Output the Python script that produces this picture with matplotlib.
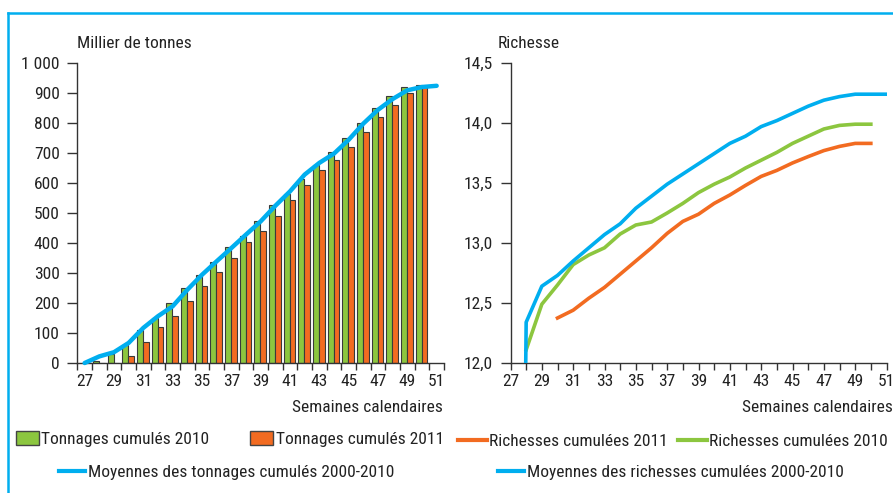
import matplotlib
matplotlib.use("Agg")
import matplotlib.pyplot as plt
from matplotlib import font_manager
from matplotlib.patches import Patch
from matplotlib.lines import Line2D

# Pick a narrow font if one is installed
installed = {f.name for f in font_manager.fontManager.ttflist}
FONT = "DejaVu Sans"
for name in ["Liberation Sans Narrow", "Roboto Condensed", "Open Sans Condensed", "Noto Sans"]:
    if name in installed:
        FONT = name
        break
plt.rcParams["font.family"] = [FONT, "DejaVu Sans"]

# Data
WEEKS_ALL = list(range(27, 52))
WEEKS_BARS = list(range(28, 51))
tonnage_2010 = [6, 31, 61, 110, 150, 200, 249, 294, 336, 388, 424, 474, 527,
                562, 612, 660, 702, 749, 800, 850, 891, 919, 926]
tonnage_2011 = [0, 0, 24, 70, 119, 158, 207, 257, 302, 351, 403, 440, 491,
                544, 594, 644, 678, 721, 770, 819, 859, 899, 920]
tonnage_mean = [0, 22, 36, 67, 117, 156, 189, 244, 294, 339, 383, 428, 472,
                524, 572, 628, 667, 698, 744, 798, 844, 880, 909, 920, 924]

richesse_mean = [0, 12.34, 12.64, 12.73, 12.85, 12.96, 13.07, 13.16, 13.29,
                 13.39, 13.49, 13.575, 13.66, 13.745, 13.83, 13.89, 13.97,
                 14.02, 14.08, 14.14, 14.19, 14.22, 14.24, 14.24, 14.24]
WEEKS_R2010 = list(range(28, 51))
richesse_2010 = [12.11, 12.49, 12.65, 12.82, 12.90, 12.96, 13.075, 13.15,
                 13.175, 13.25, 13.33, 13.42, 13.49, 13.55, 13.625, 13.69,
                 13.755, 13.83, 13.89, 13.95, 13.98, 13.99, 13.99]
WEEKS_R2011 = list(range(30, 51))
richesse_2011 = [12.375, 12.44, 12.54, 12.63, 12.74, 12.85, 12.96, 13.08,
                 13.18, 13.24, 13.33, 13.40, 13.48, 13.555, 13.605, 13.667,
                 13.72, 13.77, 13.805, 13.83, 13.83]

GREEN = "#8CC63F"
ORANGE = "#F26B21"
BLUE = "#00AEEF"
DARK = "#222222"
FS = 12.5

W, H = 893, 493
fig = plt.figure(figsize=(W / 100, H / 100), dpi=100)


def fx(px):
    return px / W


def fy(py):
    return 1 - py / H


def style_axes(ax):
    for side in ["top", "right"]:
        ax.spines[side].set_visible(False)
    for side in ["left", "bottom"]:
        ax.spines[side].set_color("#333333")
        ax.spines[side].set_linewidth(1.0)
    ax.tick_params(axis="y", direction="out", length=7.2, width=1.0,
                   color="#333333", labelsize=FS, labelcolor=DARK, pad=5.5)
    ax.tick_params(axis="x", which="both", direction="out", length=5, width=1.0,
                   color="#333333", labelsize=FS, labelcolor=DARK, pad=3)
    ax.set_facecolor("none")


# ---- Left chart: tonnages ----
ax1 = fig.add_axes([fx(77.3), fy(363), fx(444 - 77.3), (363 - 63) / H])
ax1.bar([w - 0.23 for w in WEEKS_BARS], tonnage_2010, width=0.4,
        color=GREEN, edgecolor="#3a3a3a", linewidth=0.8, zorder=2)
ax1.bar([w + 0.17 for w in WEEKS_BARS], tonnage_2011, width=0.4,
        color=ORANGE, edgecolor="#3a3a3a", linewidth=0.8, zorder=2)
ax1.plot(WEEKS_ALL, tonnage_mean, color=BLUE, linewidth=3.2,
         solid_capstyle="round", zorder=3, clip_on=False)
ax1.set_xlim(26.5, 51.5)
ax1.set_ylim(0, 1000)
ax1.set_yticks(range(0, 1001, 100))
ax1.set_yticklabels(["1 000" if v == 1000 else str(v) for v in range(0, 1001, 100)])
ax1.set_xticks([w - 0.5 for w in WEEKS_ALL] + [51.5])
ax1.set_xticklabels([])
ax1.set_xticks(WEEKS_ALL[::2], minor=True)
ax1.set_xticklabels([str(w) for w in WEEKS_ALL[::2]], minor=True)
style_axes(ax1)
ax1.tick_params(axis="x", which="minor", length=0, pad=8)

# ---- Right chart: richesse ----
ax2 = fig.add_axes([fx(510.5), fy(363), fx(886.5 - 510.5), (363 - 63) / H])
ax2.plot(WEEKS_ALL, richesse_mean, color=BLUE, linewidth=2.6, zorder=3)
ax2.plot(WEEKS_R2010, richesse_2010, color=GREEN, linewidth=2.6, zorder=2)
ax2.plot(WEEKS_R2011, richesse_2011, color=ORANGE, linewidth=2.6, zorder=2)
ax2.set_xlim(27, 51)
ax2.set_ylim(12.0, 14.5)
ticks_r = [12.0, 12.5, 13.0, 13.5, 14.0, 14.5]
ax2.set_yticks(ticks_r)
ax2.set_yticklabels([f"{t:.1f}".replace(".", ",") for t in ticks_r])
ax2.set_xticks(WEEKS_ALL[::2])
ax2.set_xticklabels([str(w) for w in WEEKS_ALL[::2]])
ax2.set_xticks(WEEKS_ALL[1::2], minor=True)
style_axes(ax2)

# Axis titles
fig.text(fx(77), fy(43), "Millier de tonnes", fontsize=FS, color=DARK,
         ha="left", va="center")
fig.text(fx(498), fy(43), "Richesse", fontsize=FS, color=DARK,
         ha="left", va="center")
fig.text(fx(443), fy(408), "Semaines calendaires", fontsize=FS, color=DARK,
         ha="right", va="center")
fig.text(fx(893), fy(408), "Semaines calendaires", fontsize=FS, color=DARK,
         ha="right", va="center")

# Legend, one entry at a time
items = [
    (Patch(facecolor=GREEN, edgecolor="#444444", linewidth=1.0), "Tonnages cumulés 2010", 15.7, 439, 1.33),
    (Patch(facecolor=ORANGE, edgecolor="#444444", linewidth=1.0), "Tonnages cumulés 2011", 250, 439, 1.33),
    (Line2D([], [], color=ORANGE, linewidth=3), "Richesses cumulées 2011", 458, 441, 1.65),
    (Line2D([], [], color=GREEN, linewidth=3), "Richesses cumulées 2010", 678, 441, 1.65),
    (Line2D([], [], color=BLUE, linewidth=3), "Moyennes des tonnages cumulés 2000-2010", 59, 472, 1.5),
    (Line2D([], [], color=BLUE, linewidth=3), "Moyennes des richesses cumulées 2000-2010", 498, 472, 1.5),
]
for handle, label, x, y, hl in items:
    fig.legend([handle], [label], loc="center left", bbox_to_anchor=(fx(x), fy(y)),
               frameon=False, fontsize=FS, handlelength=hl, handleheight=0.92,
               handletextpad=0.15, borderpad=0, borderaxespad=0,
               labelcolor=DARK)

# Light blue frame on the top and left
fig.add_artist(Line2D([fx(8), 1], [fy(12.7), fy(12.7)], color=BLUE, linewidth=1.8))
fig.add_artist(Line2D([fx(8), fx(8)], [fy(12.7), 0], color=BLUE, linewidth=1.8))

fig.savefig("out.png", dpi=100)
